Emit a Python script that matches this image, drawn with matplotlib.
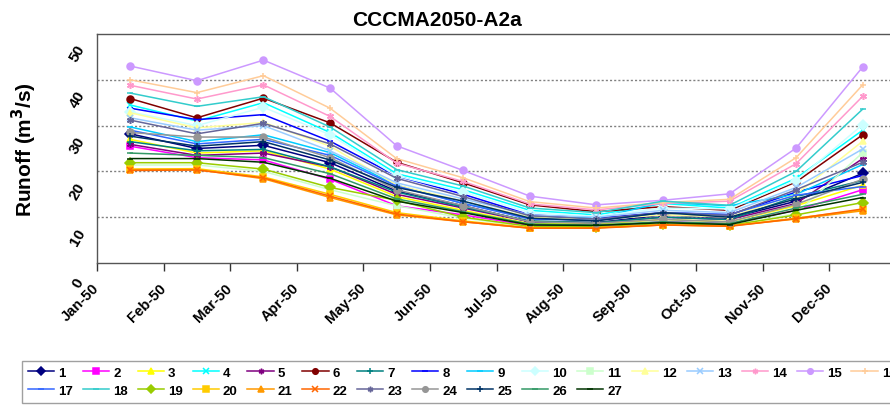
import numpy as np
import matplotlib
matplotlib.use("Agg")
import matplotlib.pyplot as plt
from matplotlib.transforms import ScaledTranslation

plt.rcParams['font.family'] = ['Liberation Sans', 'DejaVu Sans']

months = ["Jan-50", "Feb-50", "Mar-50", "Apr-50", "May-50", "Jun-50",
          "Jul-50", "Aug-50", "Sep-50", "Oct-50", "Nov-50", "Dec-50"]
series_names = [str(i) for i in range(1, 28)]

s1 = [28.2, 25.0, 25.7, 21.9, 15.7, 12.5, 9.0, 8.8, 10.5, 9.8, 13.5, 19.6]
s2 = [25.5, 23.0, 22.5, 18.3, 12.5, 10.5, 8.2, 8.0, 9.0, 8.6, 11.5, 16.0]
s3 = [27.0, 24.0, 24.5, 20.5, 14.5, 11.5, 8.6, 8.5, 9.5, 9.0, 12.5, 17.0]
s4 = [34.5, 31.0, 35.0, 28.5, 19.5, 16.0, 11.5, 10.5, 13.0, 12.0, 18.5, 29.0]
s5 = [25.9, 23.5, 24.0, 21.0, 15.0, 12.0, 9.0, 8.8, 10.0, 9.5, 13.0, 22.8]
s6 = [35.9, 31.7, 36.0, 30.6, 22.0, 17.5, 12.7, 11.2, 12.3, 11.5, 17.7, 28.0]
s7 = [26.5, 24.5, 24.8, 21.0, 15.5, 12.2, 9.2, 8.8, 10.0, 9.5, 14.5, 18.0]
s8 = [33.8, 31.3, 32.4, 26.6, 19.0, 15.0, 10.5, 9.8, 11.0, 10.5, 15.5, 19.1]
s9 = [29.7, 26.5, 28.0, 24.1, 17.0, 13.0, 10.0, 9.8, 13.2, 12.5, 15.0, 21.5]
s10 = [33.0, 30.0, 34.0, 28.0, 19.0, 15.5, 11.0, 10.2, 12.0, 11.8, 18.0, 30.2]
s11 = [21.4, 21.4, 20.0, 16.0, 12.5, 9.8, 7.9, 7.8, 8.4, 8.1, 10.8, 24.1]
s12 = [32.8, 29.5, 30.7, 25.5, 17.0, 13.5, 10.0, 9.5, 10.5, 10.0, 15.0, 26.6]
s13 = [31.7, 29.0, 30.0, 24.5, 17.5, 14.0, 10.5, 10.0, 11.5, 11.0, 16.5, 24.9]
s14 = [38.8, 35.8, 38.9, 32.0, 21.8, 17.8, 12.9, 11.6, 13.0, 13.5, 21.7, 36.4]
s15 = [43.0, 39.8, 44.3, 38.2, 25.6, 20.2, 14.6, 12.7, 13.7, 15.1, 25.1, 42.8]
s16 = [40.0, 37.2, 40.9, 33.8, 22.8, 18.6, 13.4, 12.0, 13.2, 13.9, 23.0, 38.9]
s17 = [29.0, 26.0, 27.0, 23.5, 16.8, 13.0, 9.6, 9.3, 11.0, 10.6, 14.8, 16.7]
s18 = [37.1, 34.2, 36.3, 29.7, 20.4, 16.8, 12.0, 11.0, 13.5, 12.6, 20.0, 33.6]
s19 = [21.9, 21.9, 20.5, 16.5, 13.7, 10.0, 8.0, 7.9, 8.5, 8.2, 10.5, 13.2]
s20 = [20.5, 20.6, 18.8, 15.0, 11.0, 9.2, 7.7, 7.7, 8.3, 8.1, 9.8, 11.6]
s21 = [20.4, 20.4, 18.4, 14.3, 10.5, 9.0, 7.6, 7.7, 8.3, 8.1, 9.6, 11.4]
s22 = [20.2, 20.3, 18.6, 14.6, 10.7, 9.0, 7.6, 7.6, 8.3, 8.0, 9.7, 11.8]
s23 = [31.2, 28.2, 30.5, 26.0, 18.5, 14.5, 10.3, 9.6, 11.0, 10.4, 16.0, 22.0]
s24 = [28.5, 27.5, 27.5, 23.0, 16.0, 12.5, 9.0, 8.7, 9.5, 9.0, 12.8, 18.3]
s25 = [27.7, 25.5, 26.5, 22.5, 16.5, 13.5, 9.8, 9.2, 11.0, 10.0, 14.0, 17.6]
s26 = [24.0, 23.5, 23.0, 19.5, 14.0, 11.2, 8.5, 8.3, 9.0, 8.6, 12.0, 15.0]
s27 = [22.8, 22.8, 22.0, 18.5, 13.5, 11.0, 8.3, 8.2, 8.8, 8.4, 11.5, 14.3]

all_series = [s1, s2, s3, s4, s5, s6, s7, s8, s9, s10, s11, s12, s13, s14,
              s15, s16, s17, s18, s19, s20, s21, s22, s23, s24, s25, s26, s27]

colors = ["#000080", "#FF00FF", "#FFFF00", "#00FFFF", "#800080", "#800000",
          "#008080", "#0000FF", "#00CCFF", "#CCFFFF", "#CCFFCC", "#FFFF99",
          "#99CCFF", "#FF99CC", "#CC99FF", "#FFCC99", "#3366FF", "#33CCCC",
          "#99CC00", "#FFCC00", "#FF9900", "#FF6600", "#666699", "#969696",
          "#003366", "#339966", "#003300"]
marker_cycle = ["D", "s", "^", "x", (6, 2, 0), "o", "+", "_", "_"]

fig = plt.figure(figsize=(8.9, 4.06), dpi=100)
ax = fig.add_axes([97/890, 142/406, 799/890, 229/406])

x = np.arange(len(months))
for i, vals in enumerate(all_series):
    m = marker_cycle[i % len(marker_cycle)]
    ax.plot(x, vals, color=colors[i], lw=1.1, marker=m, ms=5,
            mew=1.1, label=series_names[i], clip_on=False, zorder=3)

ax.set_xlim(-0.5, 11.5)
ax.set_ylim(0, 50)

# x ticks at category boundaries, labels at left boundary of each category
ax.set_xticks(np.arange(-0.5, 12.0, 1.0))
ax.set_xticklabels(months + [""], rotation=45, ha="right", va="center",
                   rotation_mode="anchor", fontsize=10.5, fontweight="bold")
ax.tick_params(axis="x", direction="out", length=6, width=1, color="#333333", pad=10)

ax.set_yticks([0, 10, 20, 30, 40, 50])
ax.set_yticklabels(["0", "10", "20", "30", "40", "50"], rotation=60,
                   fontsize=11, fontweight="bold", ha="center", va="center")
ax.tick_params(axis="y", length=0, pad=14)
off = ScaledTranslation(0, -19/100, fig.dpi_scale_trans)
for lab in ax.get_yticklabels():
    lab.set_transform(lab.get_transform() + off)

for yv in [10, 20, 30, 40]:
    ax.axhline(yv, color="#808080", lw=1.0, ls=(0, (1.5, 1.5)), zorder=1)

for side in ["left", "bottom", "top"]:
    ax.spines[side].set_color("#555555")
    ax.spines[side].set_linewidth(1.0)
ax.spines["right"].set_visible(False)

ax.set_ylabel("Runoff (m$^{\\mathbf{3}}$/s)", fontsize=15, fontweight="bold")
ax.yaxis.set_label_coords(-0.073, 0.5)

fig.text(437/890, 1 - 20/406, "CCCMA2050-A2a", ha="center", va="center",
         fontsize=15, fontweight="bold")

# legend: row-major ordering for 16 columns
handles, labels = ax.get_legend_handles_labels()
ncol = 16
n = len(handles)
order = []
for c in range(ncol):
    for r in range(2):
        idx = r * ncol + c
        if idx < n:
            order.append(idx)
leg = fig.legend([handles[i] for i in order], [labels[i] for i in order],
                 ncol=ncol, loc="lower left", bbox_to_anchor=(22/890, 2/406),
                 borderaxespad=0, frameon=True, fancybox=False,
                 prop={"weight": "bold", "size": 9.5},
                 handlelength=2.0, handletextpad=0.3, columnspacing=0.74,
                 borderpad=0.45, labelspacing=0.45, markerscale=0.8)
leg.get_frame().set_edgecolor("#888888")
leg.get_frame().set_linewidth(1.0)

fig.savefig("out.png", dpi=100)
